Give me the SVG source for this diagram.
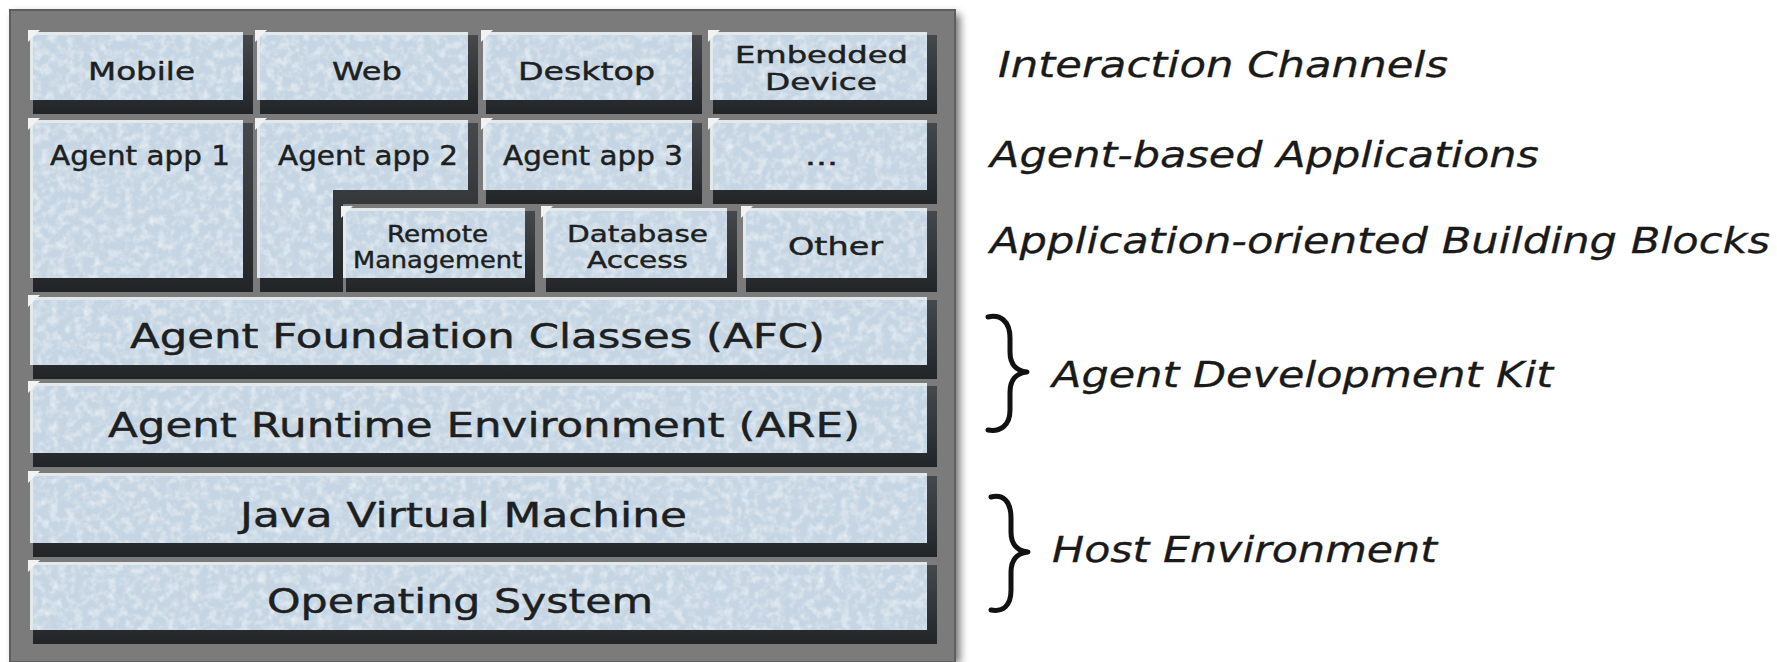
<svg xmlns="http://www.w3.org/2000/svg" width="1777" height="662" viewBox="0 0 1777 662">
<defs>
<filter id="blur" x="-5%" y="-5%" width="110%" height="110%"><feGaussianBlur stdDeviation="4"/></filter>
<filter id="tex" x="0" y="0" width="100%" height="100%">
<feTurbulence type="fractalNoise" baseFrequency="0.12" numOctaves="3" seed="4" result="n"/>
<feColorMatrix in="n" type="matrix" values="0 0 0 0 1  0 0 0 0 1  0 0 0 0 1  1.1 0 0 0 -0.45" result="w"/>
<feComposite in="w" in2="SourceGraphic" operator="in" result="wi"/>
<feMerge><feMergeNode in="SourceGraphic"/><feMergeNode in="wi"/></feMerge>
</filter>
<linearGradient id="shg" x1="0" y1="0" x2="0" y2="1"><stop offset="0" stop-color="#45494c"/><stop offset="1" stop-color="#222527"/></linearGradient>
</defs>
<style>
.sh{fill:url(#shg)}
.face{fill:#c5d5e3;filter:url(#tex)}
.edge{fill:none;stroke:#e3e8eb;stroke-width:3}
.hl{fill:#f2f2f2}
.t{font-family:"DejaVu Sans","Liberation Sans",sans-serif;fill:#1d1f21;stroke:#1d1f21;stroke-width:0.45}
.s{font-size:25px}
.m{font-size:23px}
.a{font-size:27px}
.b{font-size:34px}
.r{font-family:"DejaVu Sans","Liberation Sans",sans-serif;font-style:italic;font-size:36px;fill:#1a1a1a;stroke:#1a1a1a;stroke-width:0.3}
.br{fill:none;stroke:#111;stroke-width:5;stroke-linecap:round;stroke-linejoin:round}
</style>
<rect width="1777" height="662" fill="#ffffff"/>
<g id="panel">
<rect x="14" y="14" width="946" height="650" fill="#000" opacity="0.55" filter="url(#blur)"/>
<rect x="10" y="10" width="945" height="652" fill="#7b7b7b" stroke="#5e5e5e" stroke-width="2"/>
</g>
<g id="mobile">
<rect class="sh" x="33" y="35" width="220" height="79"/>
<rect class="face" x="30" y="32" width="213" height="68"/>
<path class="edge" d="M31.5 100 V33.5 H243"/>
<polygon class="hl" points="28,30 40,30 28,42"/>
<text class="t s" x="88" y="80" textLength="107" lengthAdjust="spacingAndGlyphs">Mobile</text>
</g>
<g id="web">
<rect class="sh" x="260" y="35" width="218" height="79"/>
<rect class="face" x="257" y="32" width="211" height="68"/>
<path class="edge" d="M258.5 100 V33.5 H468"/>
<polygon class="hl" points="255,30 267,30 255,42"/>
<text class="t s" x="332" y="80" textLength="70" lengthAdjust="spacingAndGlyphs">Web</text>
</g>
<g id="desktop">
<rect class="sh" x="486" y="35" width="216" height="79"/>
<rect class="face" x="483" y="32" width="209" height="68"/>
<path class="edge" d="M484.5 100 V33.5 H692"/>
<polygon class="hl" points="481,30 493,30 481,42"/>
<text class="t s" x="518" y="80" textLength="137" lengthAdjust="spacingAndGlyphs">Desktop</text>
</g>
<g id="embedded">
<rect class="sh" x="713" y="35" width="224" height="79"/>
<rect class="face" x="710" y="32" width="217" height="68"/>
<path class="edge" d="M711.5 100 V33.5 H927"/>
<polygon class="hl" points="708,30 720,30 708,42"/>
<text class="t m" x="735" y="63" textLength="173" lengthAdjust="spacingAndGlyphs">Embedded</text>
<text class="t m" x="765" y="90" textLength="112" lengthAdjust="spacingAndGlyphs">Device</text>
</g>
<g id="app1">
<rect class="sh" x="33" y="123" width="220" height="169"/>
<rect class="face" x="30" y="120" width="213" height="158"/>
<path class="edge" d="M31.5 278 V121.5 H243"/>
<polygon class="hl" points="28,118 40,118 28,130"/>
<text class="t a" x="50" y="165" textLength="180" lengthAdjust="spacingAndGlyphs">Agent app 1</text>
</g>
<g id="app2">
<path class="sh" d="M260 123 H478 V204 H343 V292 H260 Z"/>
<path class="face" d="M257 120 H468 V190 H333 V278 H257 Z"/>
<path class="edge" d="M258.5 278 V121.5 H468"/>
<polygon class="hl" points="255,118 267,118 255,130"/>
<text class="t a" x="278" y="165" textLength="180" lengthAdjust="spacingAndGlyphs">Agent app 2</text>
</g>
<g id="app3">
<rect class="sh" x="486" y="123" width="216" height="81"/>
<rect class="face" x="483" y="120" width="209" height="70"/>
<path class="edge" d="M484.5 190 V121.5 H692"/>
<polygon class="hl" points="481,118 493,118 481,130"/>
<text class="t a" x="503" y="165" textLength="180" lengthAdjust="spacingAndGlyphs">Agent app 3</text>
</g>
<g id="more">
<rect class="sh" x="713" y="123" width="224" height="81"/>
<rect class="face" x="710" y="120" width="217" height="70"/>
<path class="edge" d="M711.5 190 V121.5 H927"/>
<polygon class="hl" points="708,118 720,118 708,130"/>
<text class="t s" x="805" y="165" textLength="33" lengthAdjust="spacingAndGlyphs">...</text>
</g>
<g id="remote">
<rect class="sh" x="346" y="211" width="189" height="81"/>
<rect class="face" x="343" y="208" width="182" height="70"/>
<path class="edge" d="M344.5 278 V209.5 H525"/>
<polygon class="hl" points="341,206 353,206 341,218"/>
<text class="t m" x="387" y="242" textLength="101" lengthAdjust="spacingAndGlyphs">Remote</text>
<text class="t m" x="353" y="268" textLength="169" lengthAdjust="spacingAndGlyphs">Management</text>
</g>
<g id="database">
<rect class="sh" x="546" y="211" width="191" height="81"/>
<rect class="face" x="543" y="208" width="184" height="70"/>
<path class="edge" d="M544.5 278 V209.5 H727"/>
<polygon class="hl" points="541,206 553,206 541,218"/>
<text class="t m" x="567" y="242" textLength="141" lengthAdjust="spacingAndGlyphs">Database</text>
<text class="t m" x="587" y="268" textLength="101" lengthAdjust="spacingAndGlyphs">Access</text>
</g>
<g id="other">
<rect class="sh" x="746" y="211" width="191" height="81"/>
<rect class="face" x="743" y="208" width="184" height="70"/>
<path class="edge" d="M744.5 278 V209.5 H927"/>
<polygon class="hl" points="741,206 753,206 741,218"/>
<text class="t s" x="788" y="255" textLength="95" lengthAdjust="spacingAndGlyphs">Other</text>
</g>
<g id="afc">
<rect class="sh" x="33" y="300" width="904" height="79"/>
<rect class="face" x="30" y="297" width="897" height="68"/>
<path class="edge" d="M31.5 365 V298.5 H927"/>
<polygon class="hl" points="28,295 40,295 28,307"/>
<text class="t b" x="130" y="348" textLength="695" lengthAdjust="spacingAndGlyphs">Agent Foundation Classes (AFC)</text>
</g>
<g id="are">
<rect class="sh" x="33" y="386" width="904" height="81"/>
<rect class="face" x="30" y="383" width="897" height="70"/>
<path class="edge" d="M31.5 453 V384.5 H927"/>
<polygon class="hl" points="28,381 40,381 28,393"/>
<text class="t b" x="108" y="437" textLength="752" lengthAdjust="spacingAndGlyphs">Agent Runtime Environment (ARE)</text>
</g>
<g id="jvm">
<rect class="sh" x="33" y="476" width="904" height="81"/>
<rect class="face" x="30" y="473" width="897" height="70"/>
<path class="edge" d="M31.5 543 V474.5 H927"/>
<polygon class="hl" points="28,471 40,471 28,483"/>
<text class="t b" x="240" y="527" textLength="447" lengthAdjust="spacingAndGlyphs">Java Virtual Machine</text>
</g>
<g id="os">
<rect class="sh" x="33" y="565" width="904" height="79"/>
<rect class="face" x="30" y="562" width="897" height="68"/>
<path class="edge" d="M31.5 630 V563.5 H927"/>
<polygon class="hl" points="28,560 40,560 28,572"/>
<text class="t b" x="267" y="613" textLength="386" lengthAdjust="spacingAndGlyphs">Operating System</text>
</g>
<g id="labels">
<text class="r" x="998" y="77" textLength="450" lengthAdjust="spacingAndGlyphs">Interaction Channels</text>
<text class="r" x="990" y="167" textLength="549" lengthAdjust="spacingAndGlyphs">Agent-based Applications</text>
<text class="r" x="990" y="253" textLength="780" lengthAdjust="spacingAndGlyphs">Application-oriented Building Blocks</text>
<text class="r" x="1052" y="387" textLength="501" lengthAdjust="spacingAndGlyphs">Agent Development Kit</text>
<text class="r" x="1052" y="562" textLength="385" lengthAdjust="spacingAndGlyphs">Host Environment</text>
</g>
<g id="connectors">
<path class="br" d="M988 317 C1000 314 1010 321 1010 338 L1010 352 C1010 364 1016 371 1027 372 C1016 373 1010 380 1010 392 L1010 410 C1010 426 1000 432 988 430"/>
<path class="br" d="M991 497 C1003 494 1011 501 1011 518 L1011 532 C1011 544 1017 551 1028 552 C1017 553 1011 560 1011 572 L1011 590 C1011 606 1003 612 991 610"/>
</g>
</svg>
